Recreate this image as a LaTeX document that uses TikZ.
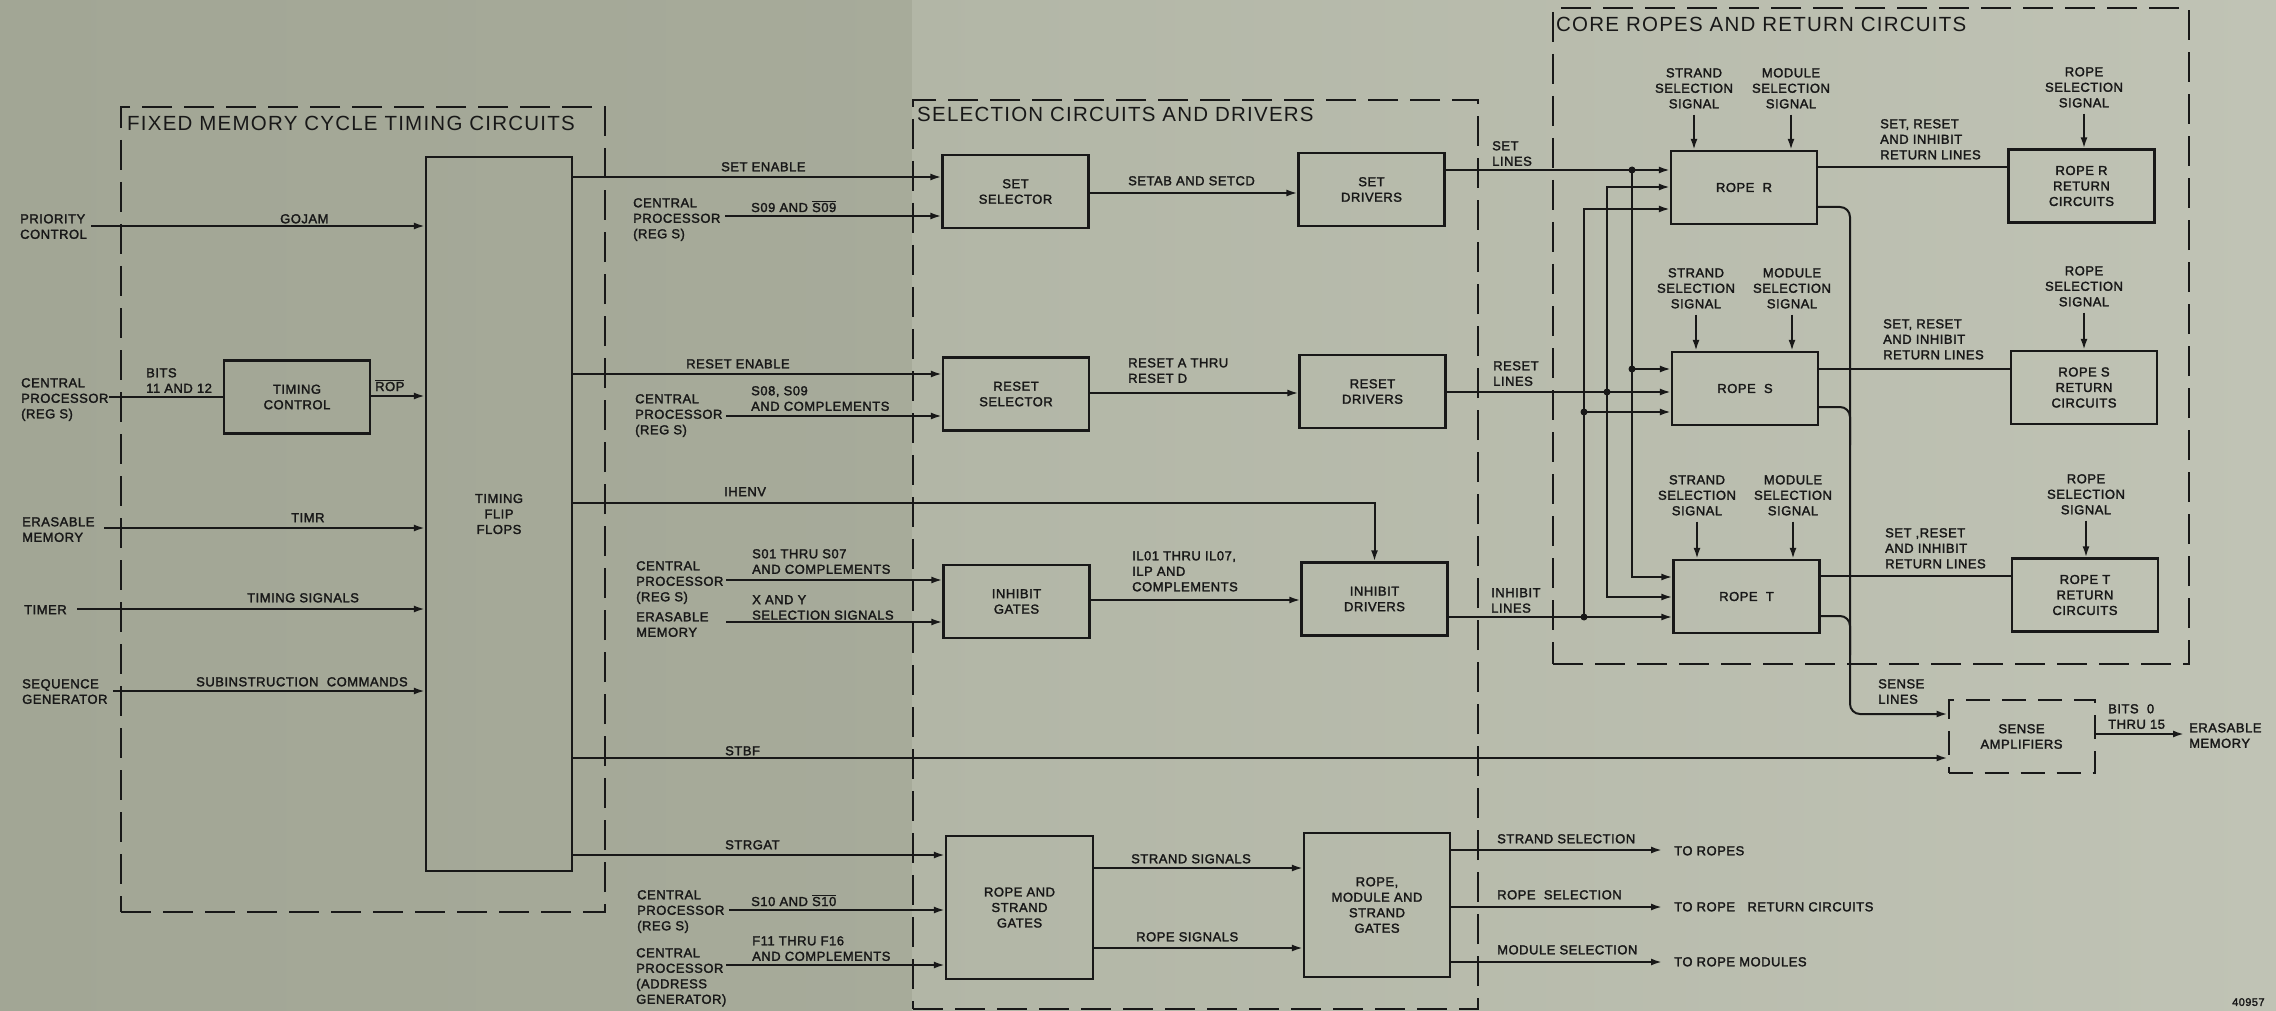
\documentclass[tikz,border=0pt]{standalone}
\usepackage{fontspec}
\setmainfont{Liberation Sans}[LetterSpace=4, FakeBold=2]
\newfontfamily\ttlfont{Liberation Sans}[LetterSpace=6]
\usetikzlibrary{arrows.meta}
\definecolor{ink}{HTML}{181818}
\definecolor{bgL}{HTML}{A2A695}
\definecolor{bgM}{HTML}{B2B6A6}
\definecolor{bgR}{HTML}{C0C3B5}
\tikzset{
  lbl/.style={font=\fontsize{13}{15.5}\selectfont, inner sep=0pt, anchor=north west, align=left, text=ink},
  clbl/.style={lbl, anchor=north, align=center},
  blbl/.style={font=\fontsize{13}{15.5}\selectfont, inner sep=0pt, anchor=base west, text=ink},
  ttl/.style={font=\ttlfont\fontsize{20.5}{24}\selectfont, inner sep=0pt, anchor=north west, text=ink},
  blk/.style={draw=ink, line width=2.3pt, inner sep=0pt, align=center, minimum width=146pt, minimum height=73pt, font=\fontsize{13}{15.5}\selectfont, text=ink},
  grp/.style={draw=ink, line width=2pt, dash pattern=on 30pt off 12pt, inner sep=0pt, anchor=north west},
  wire/.style={draw=ink, line width=2pt},
  arr/.style={wire, -{Latex[length=11pt,width=7pt]}},
  jdot/.style={circle, fill=ink, inner sep=0pt, minimum size=7pt},
}
\begin{document}
\begin{tikzpicture}[x=1pt,y=-1pt]
\useasboundingbox (0,0) rectangle (2276,1011);
\shade[left color=bgL, right color=bgL!70!bgM] (0,0) rectangle (912,1011);
\shade[left color=bgM, right color=bgR] (912,0) rectangle (2276,1011);

% ---------- groups ----------
\node[grp, minimum width=484pt, minimum height=805pt] (tgrp) at (120,106) {};
\node[ttl] (tgrpT) at (127,116) {FIXED MEMORY CYCLE TIMING CIRCUITS};
\node[grp, minimum width=565pt, minimum height=909pt] (sgrp) at (912,99) {};
\node[ttl] (sgrpT) at (917,107) {SELECTION CIRCUITS AND DRIVERS};
\node[grp, minimum width=636pt, minimum height=656pt] (cgrp) at (1552,7) {};
\node[ttl] (cgrpT) at (1556,17) {CORE ROPES AND RETURN CIRCUITS};

% ---------- blocks ----------
\node[blk, minimum height=714pt] (ff) at (499,514) {TIMING\\FLIP\\FLOPS};
\node[blk] (tctl) at (297,397) {TIMING\\CONTROL};
\node[blk] (setsel) at (1015.5,191.5) {SET\\SELECTOR};
\node[blk] (setdrv) at (1371.5,189.5) {SET\\DRIVERS};
\node[blk] (rstsel) at (1016,394) {RESET\\SELECTOR};
\node[blk] (rstdrv) at (1372.5,391.5) {RESET\\DRIVERS};
\node[blk] (inhg) at (1016.5,601.5) {INHIBIT\\GATES};
\node[blk] (inhd) at (1374.5,599) {INHIBIT\\DRIVERS};
\node[blk, minimum width=147pt, minimum height=143pt] (rsg) at (1019.5,907.5) {ROPE AND\\STRAND\\GATES};
\node[blk, minimum height=144pt] (rmsg) at (1377,905) {ROPE,\\MODULE AND\\STRAND\\GATES};
\node[blk] (ropeR) at (1744,187.5) {ROPE\ \ R};
\node[blk] (ropeS) at (1745,388.5) {ROPE\ \ S};
\node[blk] (ropeT) at (1746.5,596.5) {ROPE\ \ T};
\node[blk] (retR) at (2081.5,186) {ROPE R\\RETURN\\CIRCUITS};
\node[blk] (retS) at (2084,387.5) {ROPE S\\RETURN\\CIRCUITS};
\node[blk] (retT) at (2085,595) {ROPE T\\RETURN\\CIRCUITS};
\node[blk, line width=2pt, dash pattern=on 24pt off 12pt] (sense) at (2021.5,736.5) {SENSE\\AMPLIFIERS};

% ---------- left inputs ----------
\node[lbl] (lPC) at (20,214) {PRIORITY\\CONTROL};
\node[lbl] (lGOJAM) at (280,214) {GOJAM};
\coordinate (iPC) at (91,226);
\draw[arr] (iPC) -- (iPC -| ff.west);

\node[lbl] (lCP0) at (21,378) {CENTRAL\\PROCESSOR\\(REG S)};
\node[lbl] (lBITS) at (146,368) {BITS\\11 AND 12};
\coordinate (iCP0) at (109,397);
\draw[wire] (iCP0) -- (iCP0 -| tctl.west);
\node[blbl] (lROP) at (375,391) {$\overline{\hbox{ROP}}$};
\coordinate (oROP) at (370,396);
\draw[arr] (tctl.east |- oROP) -- (oROP -| ff.west);

\node[lbl] (lEM0) at (22,517) {ERASABLE\\MEMORY};
\node[lbl] (lTIMR) at (291,513) {TIMR};
\coordinate (iEM0) at (104,528);
\draw[arr] (iEM0) -- (iEM0 -| ff.west);

\node[lbl] (lTIMER) at (24,605) {TIMER};
\node[lbl] (lTS) at (247,593) {TIMING SIGNALS};
\coordinate (iTIMER) at (77,609);
\draw[arr] (iTIMER) -- (iTIMER -| ff.west);

\node[lbl] (lSEQ) at (22,679) {SEQUENCE\\GENERATOR};
\node[lbl] (lSUB) at (196,677) {SUBINSTRUCTION\ \ COMMANDS};
\coordinate (iSEQ) at (113,691);
\draw[arr] (iSEQ) -- (iSEQ -| ff.west);

% ---------- timing outputs ----------
\node[lbl] (lSETEN) at (721,162) {SET ENABLE};
\coordinate (ySETEN) at (700,177);
\draw[arr] (ff.east |- ySETEN) -- (ySETEN -| setsel.west);

\node[lbl] (lRSTEN) at (686,359) {RESET ENABLE};
\coordinate (yRSTEN) at (700,374);
\draw[arr] (ff.east |- yRSTEN) -- (yRSTEN -| rstsel.west);

\node[lbl] (lIHENV) at (724,487) {IHENV};
\coordinate (yIHENV) at (700,503);
\draw[arr] (ff.east |- yIHENV) -- (yIHENV -| inhd.north) -- (inhd.north);

\node[lbl] (lSTBF) at (725,746) {STBF};
\coordinate (ySTBF) at (700,758);
\draw[arr] (ff.east |- ySTBF) -- (ySTBF -| sense.west);

\node[lbl] (lSTRGAT) at (725,840) {STRGAT};
\coordinate (ySTRGAT) at (700,855);
\draw[arr] (ff.east |- ySTRGAT) -- (ySTRGAT -| rsg.west);

% ---------- selection inputs ----------
\node[lbl] (lCP1) at (633,198) {CENTRAL\\PROCESSOR\\(REG S)};
\node[blbl] (lS09) at (751,212) {S09 AND $\overline{\hbox{S09}}$};
\coordinate (iCP1) at (725,216);
\draw[arr] (iCP1) -- (iCP1 -| setsel.west);

\node[lbl] (lSETAB) at (1128,176) {SETAB AND SETCD};
\coordinate (ySETAB) at (1200,193);
\draw[arr] (setsel.east |- ySETAB) -- (ySETAB -| setdrv.west);

\node[lbl] (lCP2) at (635,394) {CENTRAL\\PROCESSOR\\(REG S)};
\node[lbl] (lS08) at (751,386) {S08, S09\\AND COMPLEMENTS};
\coordinate (iCP2) at (726,416);
\draw[arr] (iCP2) -- (iCP2 -| rstsel.west);

\node[lbl] (lRSTA) at (1128,358) {RESET A THRU\\RESET D};
\coordinate (yRSTA) at (1200,393);
\draw[arr] (rstsel.east |- yRSTA) -- (yRSTA -| rstdrv.west);

\node[lbl] (lCP3) at (636,561) {CENTRAL\\PROCESSOR\\(REG S)};
\node[lbl] (lS01) at (752,549) {S01 THRU S07\\AND COMPLEMENTS};
\coordinate (iCP3) at (726,580);
\draw[arr] (iCP3) -- (iCP3 -| inhg.west);

\node[lbl] (lEM1) at (636,612) {ERASABLE\\MEMORY};
\node[lbl] (lXY) at (752,595) {X AND Y\\SELECTION SIGNALS};
\coordinate (iEM1) at (726,622);
\draw[arr] (iEM1) -- (iEM1 -| inhg.west);

\node[lbl] (lIL) at (1132,551) {IL01 THRU IL07,\\ILP AND\\COMPLEMENTS};
\coordinate (yIL) at (1200,600);
\draw[arr] (inhg.east |- yIL) -- (yIL -| inhd.west);

\node[lbl] (lCP4) at (637,890) {CENTRAL\\PROCESSOR\\(REG S)};
\node[blbl] (lS10) at (751,906) {S10 AND $\overline{\hbox{S10}}$};
\coordinate (iCP4) at (729,910);
\draw[arr] (iCP4) -- (iCP4 -| rsg.west);

\node[lbl] (lCP5) at (636,948) {CENTRAL\\PROCESSOR\\(ADDRESS\\GENERATOR)};
\node[lbl] (lF11) at (752,936) {F11 THRU F16\\AND COMPLEMENTS};
\coordinate (iCP5) at (726,965);
\draw[arr] (iCP5) -- (iCP5 -| rsg.west);

\node[lbl] (lSTRS) at (1131,854) {STRAND SIGNALS};
\coordinate (ySTRS) at (1200,868);
\draw[arr] (rsg.east |- ySTRS) -- (ySTRS -| rmsg.west);

\node[lbl] (lROPS) at (1136,932) {ROPE SIGNALS};
\coordinate (yROPS) at (1200,948);
\draw[arr] (rsg.east |- yROPS) -- (yROPS -| rmsg.west);

% ---------- gate outputs ----------
\node[lbl] (lSSEL) at (1497,834) {STRAND SELECTION};
\node[lbl] (lTOR) at (1674,846) {TO ROPES};
\coordinate (tSSEL) at (1662,850);
\draw[arr] (rmsg.east |- tSSEL) -- (tSSEL);

\node[lbl] (lRSEL) at (1497,890) {ROPE\ \ SELECTION};
\node[lbl] (lTORR) at (1674,902) {TO ROPE\ \ \ RETURN CIRCUITS};
\coordinate (tRSEL) at (1662,907);
\draw[arr] (rmsg.east |- tRSEL) -- (tRSEL);

\node[lbl] (lMSEL) at (1497,945) {MODULE SELECTION};
\node[lbl] (lTORM) at (1674,957) {TO ROPE MODULES};
\coordinate (tMSEL) at (1662,962);
\draw[arr] (rmsg.east |- tMSEL) -- (tMSEL);

% ---------- drive lines into ropes ----------
\node[lbl] (lSETL) at (1492,141) {SET\\LINES};
\node[lbl] (lRSTL) at (1493,361) {RESET\\LINES};
\node[lbl] (lINHL) at (1491,588) {INHIBIT\\LINES};

\coordinate (setJ) at (1632,170);
\coordinate (setS) at (1632,369);
\coordinate (setB) at (1632,577);
\draw[arr] (setdrv.east |- setJ) -- (setJ -| ropeR.west);
\draw[arr] (setJ) -- (setB) -- (setB -| ropeT.west);
\draw[arr] (setS) -- (setS -| ropeS.west);
\node[jdot] (dSetJ) at (setJ) {};
\node[jdot] (dSetS) at (setS) {};

\coordinate (rstT) at (1607,187);
\coordinate (rstJ) at (1607,392);
\coordinate (rstB) at (1607,597);
\draw[arr] (rstdrv.east |- rstJ) -- (rstJ -| ropeS.west);
\draw[arr] (rstJ) -- (rstT) -- (rstT -| ropeR.west);
\draw[arr] (rstJ) -- (rstB) -- (rstB -| ropeT.west);
\node[jdot] (dRstJ) at (rstJ) {};

\coordinate (inhT) at (1584,209);
\coordinate (inhS) at (1584,412);
\coordinate (inhJ) at (1584,617);
\draw[arr] (inhd.east |- inhJ) -- (inhJ -| ropeT.west);
\draw[arr] (inhJ) -- (inhT) -- (inhT -| ropeR.west);
\draw[arr] (inhS) -- (inhS -| ropeS.west);
\node[jdot] (dInhJ) at (inhJ) {};
\node[jdot] (dInhS) at (inhS) {};

% ---------- selection signals ----------
\node[clbl] (sR) at (1694,68) {STRAND\\SELECTION\\SIGNAL};
\node[clbl] (mR) at (1791,68) {MODULE\\SELECTION\\SIGNAL};
\node[clbl] (pR) at (2084,67) {ROPE\\SELECTION\\SIGNAL};
\draw[arr] ([yshift=-6pt]sR.south) -- (sR.south |- ropeR.north);
\draw[arr] ([yshift=-6pt]mR.south) -- (mR.south |- ropeR.north);
\draw[arr] ([yshift=-6pt]pR.south) -- (pR.south |- retR.north);

\node[clbl] (sS) at (1696,268) {STRAND\\SELECTION\\SIGNAL};
\node[clbl] (mS) at (1792,268) {MODULE\\SELECTION\\SIGNAL};
\node[clbl] (pS) at (2084,266) {ROPE\\SELECTION\\SIGNAL};
\draw[arr] ([yshift=-6pt]sS.south) -- (sS.south |- ropeS.north);
\draw[arr] ([yshift=-6pt]mS.south) -- (mS.south |- ropeS.north);
\draw[arr] ([yshift=-6pt]pS.south) -- (pS.south |- retS.north);

\node[clbl] (sT) at (1697,475) {STRAND\\SELECTION\\SIGNAL};
\node[clbl] (mT) at (1793,475) {MODULE\\SELECTION\\SIGNAL};
\node[clbl] (pT) at (2086,474) {ROPE\\SELECTION\\SIGNAL};
\draw[arr] ([yshift=-6pt]sT.south) -- (sT.south |- ropeT.north);
\draw[arr] ([yshift=-6pt]mT.south) -- (mT.south |- ropeT.north);
\draw[arr] ([yshift=-6pt]pT.south) -- (pT.south |- retT.north);

% ---------- return lines ----------
\node[lbl] (rlR) at (1880,119) {SET, RESET\\AND INHIBIT\\RETURN LINES};
\node[lbl] (rlS) at (1883,319) {SET, RESET\\AND INHIBIT\\RETURN LINES};
\node[lbl] (rlT) at (1885,528) {SET ,RESET\\AND INHIBIT\\RETURN LINES};
\coordinate (yrR) at (1900,167);
\coordinate (yrS) at (1900,369);
\coordinate (yrT) at (1900,576);
\draw[wire] (ropeR.east |- yrR) -- (yrR -| retR.west);
\draw[wire] (ropeS.east |- yrS) -- (yrS -| retS.west);
\draw[wire] (ropeT.east |- yrT) -- (yrT -| retT.west);

% ---------- sense lines ----------
\coordinate (snR) at (1850,207);
\coordinate (snS) at (1850,407);
\coordinate (snS2) at (1850,445);
\coordinate (snT) at (1850,616);
\coordinate (snT2) at (1850,655);
\coordinate (snB) at (1850,714);
\draw[arr, rounded corners=10pt] (ropeR.east |- snR) -- (snR) -- (snB) -- (snB -| sense.west);
\draw[wire, rounded corners=10pt] (ropeS.east |- snS) -- (snS) -- (snS2);
\draw[wire, rounded corners=10pt] (ropeT.east |- snT) -- (snT) -- (snT2);
\node[lbl] (lSNS) at (1878,679) {SENSE\\LINES};

\node[lbl] (lBITS2) at (2108,704) {BITS\ \ 0\\THRU 15};
\node[lbl] (lEM2) at (2189,723) {ERASABLE\\MEMORY};
\coordinate (tBITS) at (2184,734);
\draw[arr] (sense.east |- tBITS) -- (tBITS);

\node[lbl, font=\fontsize{11}{13}\selectfont] (num) at (2232,998) {40957};
\end{tikzpicture}
\end{document}
